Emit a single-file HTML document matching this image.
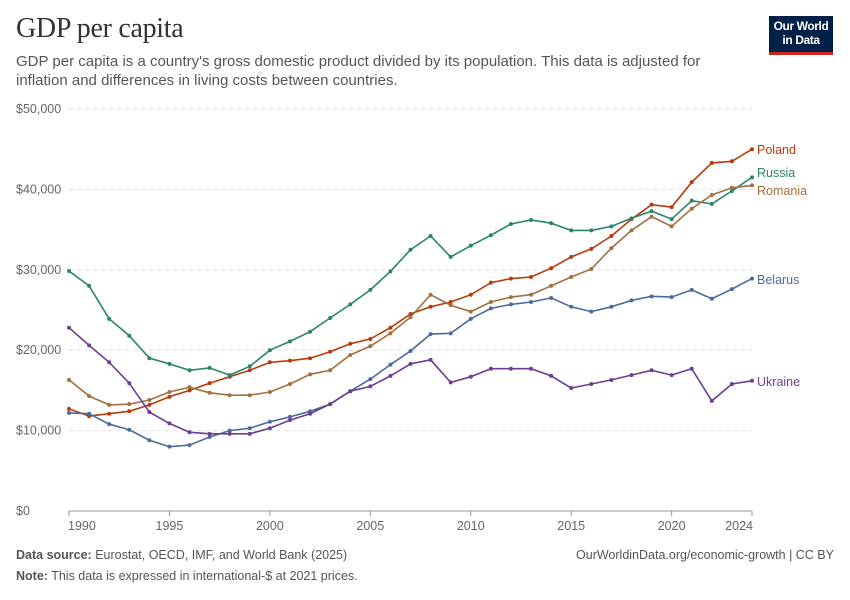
<!DOCTYPE html>
<html><head><meta charset="utf-8">
<style>
body{margin:0;background:#fff;font-family:"Liberation Sans",sans-serif;}
#wrap{position:relative;width:850px;height:600px;overflow:hidden;}
.t{position:absolute;white-space:nowrap;}
</style></head>
<body>
<div id="wrap">
<div class="t" style="left:16px;top:13px;font-family:'Liberation Serif',serif;font-size:28px;color:#333;letter-spacing:-0.3px;">GDP per capita</div>
<div class="t" style="left:16px;top:52px;font-size:15px;line-height:19px;color:#555;">GDP per capita is a country's gross domestic product divided by its population. This data is adjusted for<br>inflation and differences in living costs between countries.</div>
<div style="position:absolute;left:769px;top:16px;width:64px;height:33px;background:#002147;border-bottom:3px solid #ce261e;color:#fff;font-size:12px;font-weight:bold;line-height:14px;text-align:center;padding-top:3px;box-sizing:content-box;letter-spacing:-0.4px;">Our World<br>in Data</div>
<svg id="chart" width="850" height="600" style="position:absolute;left:0;top:0;"></svg>
<div class="t" style="left:16px;top:548px;font-size:12.5px;color:#555;"><b>Data source:</b> Eurostat, OECD, IMF, and World Bank (2025)</div>
<div class="t" style="right:16px;top:548px;font-size:12.5px;color:#555;">OurWorldinData.org/economic-growth | CC BY</div>
<div class="t" style="left:16px;top:569px;font-size:12.5px;color:#555;"><b>Note:</b> This data is expressed in international-$ at 2021 prices.</div>
</div>
<script>
const years=[1990,1991,1992,1993,1994,1995,1996,1997,1998,1999,2000,2001,2002,2003,2004,2005,2006,2007,2008,2009,2010,2011,2012,2013,2014,2015,2016,2017,2018,2019,2020,2021,2022,2023,2024];
const poland=[12.7,11.8,12.1,12.4,13.2,14.2,15.0,15.9,16.7,17.5,18.5,18.7,19.0,19.8,20.8,21.4,22.8,24.5,25.4,26.0,26.9,28.4,28.9,29.1,30.2,31.6,32.6,34.2,36.3,38.1,37.8,40.9,43.3,43.5,45.0];
const russia=[29.85,28.0,23.9,21.8,19.0,18.3,17.5,17.8,16.9,18.0,20.0,21.1,22.3,24.0,25.7,27.5,29.8,32.5,34.2,31.6,33.0,34.3,35.7,36.2,35.8,34.9,34.9,35.4,36.4,37.3,36.3,38.6,38.2,39.8,41.5];
const romania=[16.3,14.3,13.2,13.3,13.8,14.8,15.4,14.7,14.4,14.4,14.8,15.8,17.0,17.5,19.4,20.5,22.1,24.1,26.9,25.6,24.8,26.0,26.6,26.9,28.0,29.1,30.1,32.7,34.9,36.6,35.4,37.6,39.3,40.2,40.5];
const belarus=[12.2,12.1,10.8,10.1,8.8,8.0,8.2,9.2,10.0,10.3,11.1,11.7,12.4,13.3,14.9,16.4,18.2,19.9,22.0,22.1,23.9,25.2,25.7,26.0,26.5,25.4,24.8,25.4,26.2,26.7,26.6,27.5,26.4,27.6,28.9];
const ukraine=[22.8,20.6,18.5,15.9,12.3,10.9,9.8,9.6,9.6,9.6,10.3,11.3,12.1,13.3,14.9,15.5,16.8,18.3,18.8,16.0,16.7,17.7,17.7,17.7,16.8,15.3,15.8,16.3,16.9,17.5,16.9,17.7,13.7,15.8,16.2];
const yTicks=[0,10,20,30,40,50];
const yTickLabels=["$0","$10,000","$20,000","$30,000","$40,000","$50,000"];
const xTicks=[1990,1995,2000,2005,2010,2015,2020,2024];
const seriesNames=["Poland","Russia","Romania","Belarus","Ukraine"];
const seriesData=[poland,russia,romania,belarus,ukraine];
const colors=["#b83a0c","#2a8566","#a2703f","#4c6a9c","#6d3e91"];
const labelY=[149,172,190,279,381];

const svg=document.getElementById('chart');
const NS='http://www.w3.org/2000/svg';
const x0=69,x1=752,y0=511,y1=109;
const xs=v=>x0+(v-1990)/(2024-1990)*(x1-x0);
const ys=v=>y0-v/50*(y0-y1);
function mk(tag,attrs){const e=document.createElementNS(NS,tag);for(const k in attrs)e.setAttribute(k,attrs[k]);svg.appendChild(e);return e;}
yTicks.forEach((t,i)=>{
  const g=mk('line',{x1:x0,x2:x1,y1:ys(t),y2:ys(t),stroke:t===0?'#999':'#ddd','stroke-dasharray':t===0?'':'4,4'});
  
  
  const tx=mk('text',{x:16,y:ys(t)+4,'font-size':12.5,fill:'#666','font-family':'Liberation Sans'});
  tx.textContent=yTickLabels[i];
  
  
});
xTicks.forEach(t=>{
  const l=mk('line',{x1:xs(t),x2:xs(t),y1:y0,y2:y0+5,stroke:'#999'});
  
  
  const anchor=t===1990?'start':(t===2024?'end':'middle');
  const tx=mk('text',{x:t===1990?xs(t)-1:(t===2024?xs(t)+1:xs(t)),y:y0+19,'font-size':12.5,fill:'#666','text-anchor':anchor,'font-family':'Liberation Sans'});
  tx.textContent=t;
  
  
});
seriesData.forEach((d,si)=>{
  const pts=d.map((v,i)=>xs(years[i]).toFixed(1)+','+ys(v).toFixed(1)).join(' ');
  const pl=mk('polyline',{points:pts,fill:'none',stroke:colors[si],'stroke-width':1.6});
  
  
  d.forEach((v,i)=>{
    const c=mk('circle',{cx:xs(years[i]),cy:ys(v),r:2,fill:colors[si]});
    
    
  });
  const lb=mk('text',{x:757,y:labelY[si]+5,'font-size':12.5,fill:colors[si],'font-family':'Liberation Sans'});
  lb.textContent=seriesNames[si];
  
  
});
</script>
</body></html>
